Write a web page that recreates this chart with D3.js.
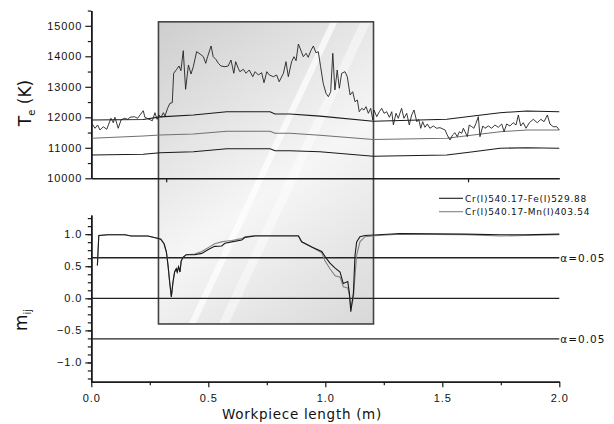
<!DOCTYPE html>
<html>
<head>
<meta charset="utf-8">
<script src="https://d3js.org/d3.v7.min.js"></script>
<style>
body { margin: 0; background: #fff; }
svg { font-family: "DejaVu Sans", Verdana, sans-serif; }
.axis path, .axis line { stroke: #1a1a1a; }
.axis path { stroke-width: 1.5; }
.axis line { stroke-width: 1.2; }
.axis text { font-size: 11px; letter-spacing: 0.9px; fill: #111; }
</style>
</head>
<body>
<svg id="chart" width="614" height="424"></svg>
<script>
// electron temperature along the workpiece (m, K)
var teX = [0.002,0.016,0.027,0.037,0.051,0.066,0.084,0.094,0.101,0.115,0.127,0.141,0.156,0.165,0.184,0.198,0.208,0.222,0.229,0.247,0.261,0.272,0.281,0.289,0.298,0.308,0.315,0.326,0.336,0.346,0.352,0.365,0.375,0.383,0.393,0.403,0.415,0.426,0.436,0.450,0.465,0.479,0.489,0.497,0.512,0.521,0.532,0.543,0.554,0.571,0.585,0.597,0.609,0.617,0.628,
  0.635,0.650,0.661,0.675,0.690,0.700,0.714,0.728,0.738,0.750,0.761,0.778,0.792,0.803,0.821,0.832,0.842,0.856,0.866,0.875,0.885,0.895,0.906,0.918,0.927,0.938,0.949,0.960,0.970,0.980,0.991,1.003,1.013,1.023,1.032,1.041,1.051,1.060,1.070,1.084,1.094,1.106,1.117,1.127,1.137,1.145,1.156,1.165,1.174,1.184,1.194,1.203,1.208,1.220,1.231,1.241,1.251,1.262,1.274,1.284,1.291,1.302,1.312,
  1.326,1.336,1.348,1.359,1.369,1.379,1.391,1.399,1.408,1.416,1.426,1.436,1.447,1.462,1.476,1.490,1.512,1.521,1.533,1.544,1.554,1.564,1.573,1.583,1.590,1.597,1.607,1.615,1.626,1.635,1.644,1.654,1.661,1.673,1.682,1.697,1.711,1.725,1.739,1.754,1.764,1.775,1.789,1.803,1.815,1.825,1.835,1.846,1.858,1.872,1.889,1.906,1.921,1.935,1.949,1.960,1.974,1.989,2.000];
var teK = [11803,11640,11748,11584,11692,11607,11967,11823,12000,11640,11911,11967,11934,12000,12020,11967,12075,12216,12000,11934,11888,12151,11934,12075,12000,12151,12043,12295,12459,12479,13443,13574,13682,13528,14184,12918,13715,13420,13659,14151,14075,13987,13770,13987,14338,13987,13901,13770,13682,13659,13682,13878,13443,13823,13606,
  13495,13574,13443,13551,13331,13495,13387,13462,13134,13495,13387,13331,13387,13167,13443,13823,13331,13823,13987,13856,14403,14207,13987,14098,13967,14184,14338,14118,14151,13659,13115,12787,12675,12839,14098,12895,13551,12951,13443,13495,13331,12731,12839,12511,12567,12184,12295,12239,12348,12131,12295,11911,12239,12020,12184,12295,12131,12184,12000,12184,11748,12131,11967,
  12295,11967,12131,11748,12075,12239,11856,11934,11639,11856,11672,11780,11640,11715,11640,11660,11584,11420,11256,11420,11495,11364,11528,11475,11640,11528,11364,11748,11692,11640,11803,12020,11364,11715,11640,11715,11640,11748,11672,11780,11528,11780,11715,11823,11748,12075,11715,11823,11640,11823,11934,11823,11934,11856,12075,11780,11692,11692,11584];

// smooth temperature bands
var bandX   = [0.002,0.222,0.294,0.436,0.579,0.764,0.785,0.849,0.977,1.205,1.519,1.632,1.747,1.861,2.0];
var bandHi  = [11911,11930,12015,12075,12184,12184,12108,12108,12040,11870,11934,12043,12151,12207,12184];
var bandMid = [11311,11387,11420,11452,11541,11541,11475,11475,11410,11270,11311,11420,11528,11584,11584];
var bandLo  = [10764,10787,10839,10872,10970,10970,10905,10905,10870,10725,10764,10872,10984,11003,10984];

// correlation coefficients m_ij
var mX  = [0.026,0.032,0.071,0.143,0.171,0.242,0.278,0.297,0.311,0.321,0.328,0.335,0.342,0.349,0.356,0.363,0.367,0.373,0.379,0.384,0.392,0.406,0.442,0.472,0.500,0.527,0.557,0.571,0.600,0.643,0.657,0.700,0.771,0.885,0.899,0.942,0.985,0.999,1.020,1.042,1.063,1.077,1.096,1.103,1.109,1.120,1.127,1.134,1.148,1.170,1.226,1.32,1.60,1.75,1.85,2.00];
var mFe = [0.51,0.98,0.99,0.99,0.97,0.97,0.94,0.92,0.85,0.72,0.51,0.25,0.02,0.25,0.41,0.46,0.41,0.49,0.41,0.58,0.64,0.68,0.68,0.70,0.76,0.81,0.815,0.857,0.88,0.908,0.95,0.97,0.97,0.97,0.88,0.80,0.73,0.65,0.55,0.47,0.41,0.23,0.26,0.08,-0.21,0.08,0.67,0.88,0.96,0.98,0.99,1.01,1.00,0.99,0.99,1.00];
var mMn = [0.51,0.98,0.99,0.99,0.97,0.97,0.94,0.92,0.85,0.72,0.51,0.25,0.02,0.25,0.41,0.46,0.41,0.49,0.41,0.58,0.64,0.68,0.69,0.73,0.79,0.85,0.88,0.89,0.90,0.93,0.96,0.98,0.98,0.98,0.88,0.80,0.71,0.58,0.46,0.35,0.33,0.18,0.16,0.05,-0.15,0.00,0.35,0.67,0.88,0.96,0.98,1.00,0.99,0.97,0.98,0.99];

var legendNames  = ["Cr(I)540.17-Fe(I)529.88", "Cr(I)540.17-Mn(I)403.54"];
var seriesColors = ["#1a1a1a", "#808080"];

var critLevels = [0.632, 0, -0.632];
var critLabels = ["\u03b1=0.05", "", "\u03b1=0.05"];

var tempTicks = [10000,11000,12000,13000,14000,15000];
var mTicks = [-1.0,-0.5,0.0,0.5,1.0];
var lenTicks = [0, 0.5, 1.0, 1.5, 2.0];
var topTicks = [0.32, 1.61];
var region = [0.287, 1.206]; // shaded zone (m)

var svg = d3.select("#chart");

var x  = d3.scaleLinear().domain([0, 2]).range([91.3, 559.3]);
var yT = d3.scaleLinear().domain([10000, 15500]).range([178.3, 10.55]);
var yB = d3.scaleLinear().domain([-1.3, 1.3]).range([381.7, 214.9]);

// ---- shaded box
var bx0 = x(region[0]), bx1 = x(region[1]), by0 = yT(15130), by1 = yB(-0.4);
var defs = svg.append("defs");
var g = defs.append("linearGradient").attr("id", "boxGrad")
  .attr("gradientUnits", "userSpaceOnUse")
  .attr("x1", bx0).attr("y1", by0).attr("x2", bx1).attr("y2", by1);
g.append("stop").attr("offset", 0).attr("stop-color", "#cecece");
g.append("stop").attr("offset", 0.55).attr("stop-color", "#f6f6f6");
g.append("stop").attr("offset", 1).attr("stop-color", "#d8d8d8");

defs.append("clipPath").attr("id", "boxClip").append("rect")
  .attr("x", bx0).attr("y", by0).attr("width", bx1 - bx0).attr("height", by1 - by0);

svg.append("rect").attr("x", bx0).attr("y", by0)
  .attr("width", bx1 - bx0).attr("height", by1 - by0)
  .attr("fill", "url(#boxGrad)");

var bw = bx1 - bx0;
var stripes = [[0.14, 0.80, 7, 0.7], [0.28, 0.94, 10, 0.45]];
svg.append("g").attr("clip-path", "url(#boxClip)")
  .selectAll("polygon").data(stripes).enter().append("polygon")
  .attr("points", function(s) {
    var a = bx0 + s[0] * bw, b = bx0 + s[1] * bw;
    return [[a, by1], [a + s[2], by1], [b + s[2], by0], [b, by0]].join(" ");
  })
  .attr("fill", "#fff").attr("opacity", function(s) { return s[3]; });

svg.append("rect").attr("x", bx0).attr("y", by0)
  .attr("width", bx1 - bx0).attr("height", by1 - by0)
  .attr("fill", "none").attr("stroke", "#444").attr("stroke-width", 1.6);

// ---- top panel axes
svg.append("g").attr("class", "axis").attr("transform", "translate(" + x(0) + ",0)")
  .call(d3.axisLeft(yT).tickValues(d3.range(10500, 15501, 1000)).tickSize(3.5).tickSizeOuter(0).tickFormat(""));
svg.append("g").attr("class", "axis").attr("transform", "translate(" + x(0) + ",0)")
  .call(d3.axisLeft(yT).tickValues(tempTicks).tickSize(6).tickSizeOuter(0).tickPadding(3).tickFormat(d3.format("d")));
svg.append("g").attr("class", "axis").attr("transform", "translate(0," + yT(10000) + ")")
  .call(d3.axisBottom(x).tickValues(topTicks).tickSize(4).tickSizeOuter(0).tickFormat(""));

// ---- bottom panel axes
svg.append("g").attr("class", "axis").attr("transform", "translate(" + x(0) + ",0)")
  .call(d3.axisLeft(yB).tickValues(d3.range(-1.25, 1.26, 0.125)).tickSize(3.5).tickSizeOuter(0).tickFormat(""));
svg.append("g").attr("class", "axis").attr("transform", "translate(" + x(0) + ",0)")
  .call(d3.axisLeft(yB).tickValues(mTicks).tickSize(6).tickSizeOuter(0).tickPadding(3).tickFormat(d3.format(".1f")));
svg.append("g").attr("class", "axis").attr("transform", "translate(0," + yB(-1.3) + ")")
  .call(d3.axisBottom(x).tickValues([0.25, 0.75, 1.25, 1.75]).tickSize(3.5).tickSizeOuter(0).tickFormat(""));
svg.append("g").attr("class", "axis").attr("transform", "translate(0," + yB(-1.3) + ")")
  .call(d3.axisBottom(x).tickValues(lenTicks).tickSize(5.5).tickSizeOuter(0).tickPadding(7).tickFormat(d3.format(".1f")));

// ---- critical lines
svg.append("g").selectAll("line").data(critLevels).enter().append("line")
  .attr("x1", x(0)).attr("x2", x(2))
  .attr("y1", function(d) { return yB(d); }).attr("y2", function(d) { return yB(d); })
  .attr("stroke", "#222").attr("stroke-width", 1.3);
svg.append("g").selectAll("text").data(critLevels).enter().append("text")
  .attr("x", x(2) + 1).attr("y", function(d) { return yB(d) + 4; })
  .attr("font-size", "10.5px").attr("letter-spacing", "1px").attr("fill", "#111")
  .text(function(d, i) { return critLabels[i]; });

// ---- temperature lines
var tLine = d3.line().x(function(d) { return x(d[0]); }).y(function(d) { return yT(d[1]); });
var bands = [[bandHi, "#1a1a1a"], [bandMid, "#707070"], [bandLo, "#1a1a1a"]];
bands.forEach(function(b) {
  svg.append("path").datum(d3.zip(bandX, b[0])).attr("d", tLine)
    .attr("fill", "none").attr("stroke", b[1]).attr("stroke-width", 1.1);
});
svg.append("path").datum(d3.zip(teX, teK)).attr("d", tLine)
  .attr("fill", "none").attr("stroke", "#222").attr("stroke-width", 0.9).attr("stroke-linejoin", "round");

// ---- m_ij lines
var mLine = d3.line().x(function(d) { return x(d[0]); }).y(function(d) { return yB(d[1]); });
[mMn, mFe].forEach(function(s, i) {
  svg.append("path").datum(d3.zip(mX, s)).attr("d", mLine)
    .attr("fill", "none").attr("stroke", seriesColors[1 - i]).attr("stroke-width", 1.1);
});

// ---- legend
var leg = svg.append("g").selectAll("g").data(legendNames).enter().append("g")
  .attr("transform", function(d, i) { return "translate(439," + (198.3 + i * 13.4) + ")"; });
leg.append("line").attr("x1", 0).attr("x2", 24)
  .attr("stroke", function(d, i) { return seriesColors[i]; }).attr("stroke-width", 1.1);
leg.append("text").attr("x", 26).attr("y", 3.5)
  .attr("font-size", "9px").attr("letter-spacing", "0.7px").attr("fill", "#111")
  .text(function(d) { return d; });

// ---- axis titles
svg.append("text").attr("x", 302).attr("y", 419).attr("text-anchor", "middle")
  .attr("font-size", "13.5px").attr("letter-spacing", "0.7px").attr("fill", "#111")
  .text("Workpiece length (m)");

var tt = svg.append("text").attr("transform", "translate(31,103) rotate(-90)")
  .attr("text-anchor", "middle").attr("font-size", "17px").attr("fill", "#111");
tt.append("tspan").text("T");
tt.append("tspan").attr("font-size", "10px").attr("dy", 4).text("e");
tt.append("tspan").attr("dy", -4).text(" (K)");

var mt = svg.append("text").attr("transform", "translate(27,320) rotate(-90)")
  .attr("text-anchor", "middle").attr("font-size", "17px").attr("fill", "#111");
mt.append("tspan").text("m");
mt.append("tspan").attr("font-size", "10px").attr("dy", 4).text("ij");
</script>
</body>
</html>
